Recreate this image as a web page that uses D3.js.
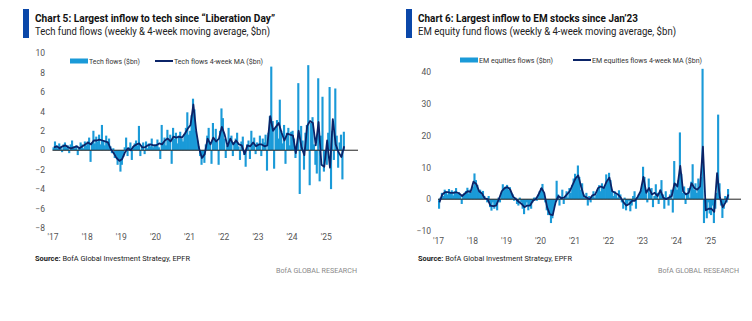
<!DOCTYPE html>
<html><head><meta charset="utf-8">
<script src="https://cdn.jsdelivr.net/npm/d3@7"></script>
<style>
html,body{margin:0;padding:0;background:#fff;}
svg{display:block;}
text{font-family:Roboto,"Noto Sans",sans-serif;}
</style></head>
<body>
<svg id="chart" width="752" height="321"></svg>
<script>
// ---------- DATA (semi-monthly flows, monthly 4-week MA, $bn) ----------
const yearTicks = [2017,2018,2019,2020,2021,2022,2023,2024,2025];
const yearLabels = ["'17","'18","'19","'20","'21","'22","'23","'24","'25"];
const techYTicks = [-8,-6,-4,-2,0,2,4,6,8,10];
const emYTicks = [-10,0,10,20,30,40];

const techFlows = [
 0.3,0.9,0.5,0.2,0.7,0.4,-0.2,0.6,0.8,0.3,0.5,-0.3,0.6,1.0,0.4,0.2,0.5,-0.5,0.3,0.8,0.6,0.2,0.9,0.5,
 0.9,1.3,-1.2,0.8,2.0,0.7,1.4,0.9,1.6,0.6,2.6,1.0,0.5,1.5,0.8,1.2,0.4,-0.3,0.2,-0.8,-0.6,-1.5,-1.0,-2.2,
 -1.5,-0.7,0.3,1.3,-0.6,0.3,0.8,-1.0,0.4,0.7,1.0,0.5,2.5,-0.6,0.5,0.8,-0.4,0.9,0.2,0.7,0.4,1.2,0.3,0.6,
 0.6,1.1,0.3,-0.9,2.6,0.8,1.3,0.5,2.1,1.0,1.6,-1.4,2.3,1.2,1.8,0.7,1.5,1.9,1.2,0.9,1.7,2.3,3.9,1.6,
 2.0,3.6,5.3,4.2,2.0,1.0,0.4,-0.6,-1.5,-0.8,-1.3,0.6,1.5,2.3,0.8,-1.4,2.8,1.2,2.2,1.0,-1.5,2.0,4.3,3.3,
 1.2,-0.8,0.5,2.3,1.0,1.5,-0.6,0.8,1.2,1.8,0.4,-1.0,0.9,1.4,-0.5,-1.7,0.6,1.0,-0.9,2.0,0.7,1.3,-0.4,0.8,
 0.6,1.5,-0.6,1.2,0.8,1.6,-2.1,1.8,3.5,8.6,3.0,-1.9,2.2,3.1,1.2,5.2,2.0,0.7,2.6,-1.4,1.8,2.3,0.5,1.9,
 2.0,1.2,-0.8,0.5,6.9,-4.5,2.5,1.0,-2.0,1.8,2.6,8.75,-3.6,2.8,3.4,0.6,-1.5,-2.4,7.4,-3.2,1.5,5.5,-2.2,-0.8,
 -1.5,1.8,6.5,-4.0,2.0,-1.0,6.35,1.5,-1.8,0.8,1.6,-3.0,1.9
];
const techMA = [
 0.3,0.4,0.2,0.4,0.5,0.3,0.2,0.3,0.4,0.2,0.4,0.6,
 0.8,0.6,1.0,1.0,1.1,1.0,0.9,0.8,0.1,-0.3,-0.8,-1.1,
 -0.9,-0.2,0.2,0.0,0.4,0.6,0.7,0.3,0.3,0.5,0.6,0.5,
 0.5,0.7,0.6,1.0,1.2,0.9,1.4,1.3,1.4,1.3,1.7,2.2,
 2.6,4.7,2.0,0.2,-0.8,-0.4,1.2,0.6,1.3,0.9,1.2,2.4,
 1.6,0.4,1.2,0.6,1.0,0.6,0.5,-0.4,0.5,0.4,0.8,0.4,
 0.6,0.6,0.4,0.5,3.5,2.0,2.4,2.8,1.8,1.0,1.7,1.6,
 1.5,-0.3,2.0,0.3,-0.5,2.5,3.0,2.8,0.5,2.9,-1.5,-1.7,
 1.0,-1.8,3.2,0.6,-0.2,-0.7,0.4
];
const emFlows = [
 -3.0,0.5,2.0,1.0,3.0,2.5,1.5,3.2,2.0,2.8,1.2,2.5,3.5,1.8,2.2,1.0,-1.5,1.5,2.0,2.6,3.6,1.8,3.0,2.2,
 4.0,8.1,6.0,4.5,2.5,3.0,1.5,2.6,1.0,0.0,-1.0,1.0,-2.5,-3.6,-1.0,-3.0,-2.0,-3.5,0.5,-1.0,2.0,4.7,3.5,4.0,
 4.5,3.0,3.8,2.0,1.5,-0.5,0.5,-1.5,-2.0,0.5,-1.0,-3.0,-4.7,-2.0,-1.0,-3.5,-2.0,-3.0,-1.0,0.5,0.5,-0.5,1.5,2.5,
 3.5,4.8,2.0,-1.0,-3.5,-5.0,-4.0,-7.5,-6.0,-3.0,-1.0,5.8,1.5,-2.0,0.8,3.0,-1.5,1.0,2.5,0.5,3.5,2.0,4.5,6.5,
 8.0,6.5,10.6,7.0,3.0,5.0,1.5,0.5,2.0,-2.0,1.0,-1.0,0.8,2.5,0.5,1.5,3.0,4.4,2.5,5.0,3.5,4.0,7.8,5.5,
 8.3,6.0,3.0,1.0,2.5,1.5,0.5,2.8,1.5,-1.0,-3.0,0.5,-3.5,-1.5,-0.5,-3.8,-2.0,1.0,2.5,-3.0,0.5,1.5,2.0,3.0,
 10.2,7.0,3.0,-1.0,6.5,2.0,3.5,-2.5,1.0,4.7,2.0,-1.5,3.0,6.0,1.5,-3.0,2.5,0.5,-2.0,1.5,3.0,-4.2,12.0,5.0,
 3.0,6.0,21.0,8.0,2.0,4.0,-1.5,2.0,3.5,0.5,5.5,11.0,3.0,5.0,2.0,6.5,4.0,7.0,41.0,-7.5,-3.0,-6.0,-1.0,-4.5,
 -5.0,-2.0,-7.5,-3.0,2.0,26.6,5.0,-2.0,-5.9,-3.0,1.0,-1.0,3.2
];
const emMA = [
 -1.0,1.5,2.2,2.2,2.0,2.0,2.2,1.8,1.0,1.8,2.5,2.3,
 5.5,4.8,2.5,1.8,0.3,0.0,-2.0,-2.2,-2.0,0.0,2.5,3.5,
 3.8,3.0,0.8,0.0,-0.8,-1.5,-2.5,-2.0,-2.0,-0.5,0.0,1.5,
 3.5,2.0,-2.5,-4.8,-5.0,-1.0,1.0,0.3,0.5,1.5,2.5,4.5,
 6.5,7.5,4.0,1.0,0.5,0.0,1.2,1.5,3.5,4.0,3.5,5.5,
 6.8,2.5,2.0,1.5,0.5,-1.0,-2.0,-1.5,-0.5,-0.5,0.8,2.5,
 7.0,2.0,3.5,1.5,2.0,1.0,2.8,0.5,0.0,0.5,1.0,5.0,
 4.0,10.5,2.5,1.5,2.0,5.0,3.5,3.0,4.0,16.5,-3.5,-3.0,
 -3.0,-4.0,8.2,0.5,-2.5,-1.0,1.5
];

// ---------- DRAW ----------
const BAR = "#1a9ad8", LINE = "#0b2468", ACCENT = "#0a47a9", TXT = "#555";
const svg = d3.select("#chart");

function panel(o) {
  const g = svg.append("g");
  // accent bar + titles
  g.append("rect").attr("x", o.ax).attr("y", 9).attr("width", 6).attr("height", 29).attr("fill", ACCENT);
  g.append("text").attr("x", o.tx).attr("y", 22).attr("font-size", 10.5).attr("font-weight", 700)
    .attr("fill", "#111").attr("textLength", o.titleW).attr("lengthAdjust", "spacingAndGlyphs").text(o.title);
  g.append("text").attr("x", o.tx).attr("y", 34.5).attr("font-size", 10).attr("fill", "#222")
    .attr("textLength", o.subW).attr("lengthAdjust", "spacingAndGlyphs").text(o.subtitle);

  const x = d3.scaleLinear().domain([2017, 2025]).range(o.xr);
  const y = d3.scaleLinear().domain(o.yd).range(o.yr);
  const step = 1 / 24;
  const bw = x(2017 + step) - x(2017) + 0.7;

  // bars
  g.append("g").selectAll("rect").data(o.flows).join("rect")
    .attr("x", (d, i) => x(2017 + i * step))
    .attr("width", bw)
    .attr("y", d => Math.min(y(d), y(0)))
    .attr("height", d => Math.abs(y(d) - y(0)))
    .attr("fill", BAR);

  // zero line
  g.append("line").attr("x1", x(2017)).attr("x2", o.zeroEnd)
    .attr("y1", y(0)).attr("y2", y(0)).attr("stroke", "#222").attr("stroke-width", 1);

  // MA line
  const line = d3.line().x((d, i) => x(2017 + (i + 0.5) / 12)).y(d => y(d)).curve(d3.curveLinear);
  g.append("path").datum(o.ma).attr("d", line).attr("fill", "none")
    .attr("stroke", LINE).attr("stroke-width", 1.8).attr("stroke-linejoin", "round");

  // y axis labels
  const ya = d3.axisLeft(y).tickValues(o.yTicks).tickSize(0).tickPadding(0).tickFormat(d3.format("d"));
  const yg = g.append("g").attr("transform", `translate(${o.yLabelX},0)`).call(ya);
  yg.select(".domain").remove();
  yg.selectAll("text").attr("font-size", 8.5).attr("fill", TXT).attr("font-family", "Roboto, sans-serif");

  // x axis labels
  const xa = d3.axisBottom(x).tickValues(yearTicks).tickSize(0).tickPadding(0)
    .tickFormat((d, i) => yearLabels[i]);
  const xg = g.append("g").attr("transform", `translate(0,${o.xLabelY})`).call(xa);
  xg.select(".domain").remove();
  xg.selectAll("text").attr("font-size", 8.5).attr("fill", TXT).attr("font-family", "Roboto, sans-serif");

  // legend
  g.append("rect").attr("x", o.lg[0]).attr("y", o.lgY - 2.5).attr("width", 18).attr("height", 5).attr("fill", BAR);
  g.append("text").attr("x", o.lg[0] + 19).attr("y", o.lgY + 2.5).attr("font-size", 7.2).attr("fill", "#333")
    .attr("textLength", o.lgW[0]).attr("lengthAdjust", "spacingAndGlyphs").text(o.lgText[0]);
  g.append("line").attr("x1", o.lg[1]).attr("x2", o.lg[1] + 18).attr("y1", o.lgY).attr("y2", o.lgY)
    .attr("stroke", LINE).attr("stroke-width", 2);
  g.append("text").attr("x", o.lg[1] + 19).attr("y", o.lgY + 2.5).attr("font-size", 7.2).attr("fill", "#333")
    .attr("textLength", o.lgW[1]).attr("lengthAdjust", "spacingAndGlyphs").text(o.lgText[1]);

  // source + brand
  const s = g.append("text").attr("x", o.tx).attr("y", 261).attr("font-size", 8).attr("fill", "#222")
    .attr("textLength", o.srcW).attr("lengthAdjust", "spacingAndGlyphs");
  s.append("tspan").attr("font-weight", 700).text("Source:");
  s.append("tspan").text(" BofA Global Investment Strategy, EPFR");
  g.append("text").attr("x", o.brandX).attr("y", 273).attr("font-size", 8).attr("fill", "#8a8a8a")
    .attr("text-anchor", "end").attr("textLength", 81).attr("lengthAdjust", "spacingAndGlyphs")
    .text("BofA GLOBAL RESEARCH");
}

panel({
  ax: 23, tx: 35,
  title: "Chart 5: Largest inflow to tech since \u201CLiberation Day\u201D", titleW: 240,
  subtitle: "Tech fund flows (weekly & 4-week moving average, $bn)", subW: 235,
  xr: [52.5, 325.7], yd: [-8, 10], yr: [228, 53], zeroEnd: 358,
  flows: techFlows, ma: techMA, yTicks: techYTicks, yLabelX: 45, xLabelY: 234,
  lg: [70, 155], lgY: 61, lgW: [51, 89],
  lgText: ["Tech flows ($bn)", "Tech flows 4-week MA ($bn)"],
  srcW: 155, brandX: 357
});
panel({
  ax: 406, tx: 418,
  title: "Chart 6: Largest inflow to EM stocks since Jan\u201923", titleW: 220,
  subtitle: "EM equity fund flows (weekly & 4-week moving average, $bn)", subW: 258,
  xr: [438, 710], yd: [-10, 40], yr: [231, 72], zeroEnd: 741,
  flows: emFlows, ma: emMA, yTicks: emYTicks, yLabelX: 431, xLabelY: 238,
  lg: [460, 573], lgY: 60, lgW: [74, 110],
  lgText: ["EM equities flows ($bn)", "EM equities flows 4-week MA ($bn)"],
  srcW: 154, brandX: 739
});
</script>
</body></html>
